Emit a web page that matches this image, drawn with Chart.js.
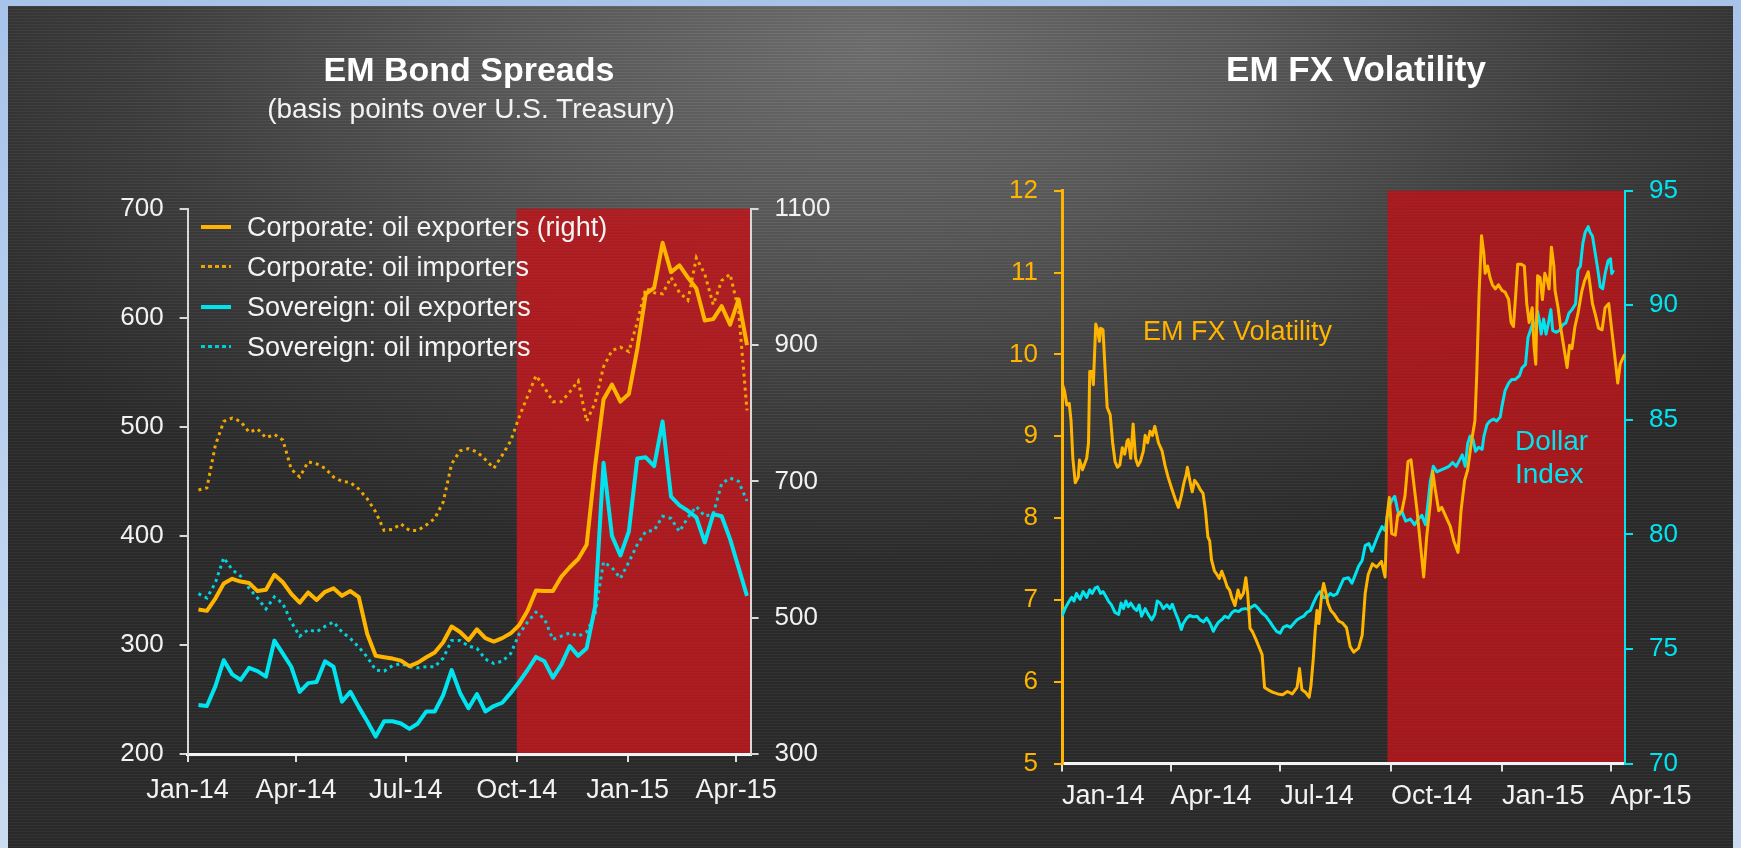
<!DOCTYPE html>
<html>
<head>
<meta charset="utf-8">
<script src="https://cdn.jsdelivr.net/npm/chart.js@4.4.1/dist/chart.umd.min.js"></script>
<style>
  html, body { margin: 0; padding: 0; }
  body {
    width: 1741px; height: 848px; position: relative; overflow: hidden;
    background: linear-gradient(180deg, #a8c3ea, #cadcf1);
    font-family: "Liberation Sans", Arial, sans-serif;
  }
  #panel {
    position: absolute; left: 8px; top: 6px; width: 1725px; height: 842px;
    background:
      repeating-linear-gradient(180deg, rgba(255,255,255,0.035) 0px, rgba(255,255,255,0.035) 1px, rgba(0,0,0,0.06) 1px, rgba(0,0,0,0.06) 3px),
      radial-gradient(ellipse 62% 62% at 50% 5%, #717171 0%, #5b5b5b 35%, #3e3e3e 70%, #2c2c2c 100%);
  }
  canvas { position: absolute; top: 0; }
  #bond { left: 0; }
  #fx { left: 870px; }
  .lbl { position: absolute; white-space: nowrap; transform: translate(-50%, -50%); }
  .title { color: #fff; font-weight: bold; font-size: 34px; }
  .sub { color: #f2f2f2; font-size: 28px; }
  .leg { position: absolute; left: 201px; height: 40px; line-height: 40px; color: #f4f4f4; font-size: 27px; white-space: nowrap; }
  .leg i { position: absolute; left: 0; top: 18px; width: 30px; height: 4px; }
  .leg span { position: absolute; left: 46px; top: 0; }
  .note { position: absolute; white-space: nowrap; }
</style>
</head>
<body>
<div id="panel"></div>
<canvas id="bond" width="870" height="848"></canvas>
<canvas id="fx" width="871" height="848"></canvas>

<div class="lbl title" style="left:469px; top:69px;">EM Bond Spreads</div>
<div class="lbl sub" style="left:471px; top:109px;">(basis points over U.S. Treasury)</div>
<div class="lbl title" style="left:1356px; top:69px; font-size:35px;">EM FX Volatility</div>

<div class="leg" style="top:207px;"><i style="background:#FFB400;"></i><span>Corporate: oil exporters (right)</span></div>
<div class="leg" style="top:247px;"><i style="height:3px; background:repeating-linear-gradient(90deg,#E8A400 0 4px,transparent 4px 7px);"></i><span>Corporate: oil importers</span></div>
<div class="leg" style="top:287px;"><i style="background:#00E4F0;"></i><span>Sovereign: oil exporters</span></div>
<div class="leg" style="top:327px;"><i style="height:3px; background:repeating-linear-gradient(90deg,#00CCD8 0 4px,transparent 4px 7px);"></i><span>Sovereign: oil importers</span></div>

<div class="note" style="left:1143px; top:316px; font-size:27px; color:#FFB400;">EM FX Volatility</div>
<div class="note" style="left:1515px; top:424px; font-size:28px; line-height:33px; color:#00E4F0;">Dollar<br>Index</div>

<script>
// ---- shared axis ticks (days since 1 Jan 2014) ----
const tickDays = [0, 90, 181, 273, 365, 455];
const tickLabels = ['Jan-14', 'Apr-14', 'Jul-14', 'Oct-14', 'Jan-15', 'Apr-15'];

// ---- EM Bond Spreads, weekly from 10 Jan 2014 ----
const corpExporters = [512, 510, 528, 550, 557, 553, 551, 539, 541, 563, 552, 535, 522, 537, 526, 538, 543, 532, 539, 530,
  476, 444, 442, 440, 437, 429, 434, 442, 449, 464, 487, 479, 467, 483, 470, 465, 470, 477, 489, 510,
  540, 539, 539, 560, 574, 586, 607, 722, 820, 842, 817, 828, 894, 975, 984, 1050, 1007, 1017, 999, 983,
  936, 938, 957, 930, 967, 900];
const corpImporters = [442, 444, 483, 505, 508, 505, 495, 498, 490, 493, 488, 461, 454, 468, 466, 462, 454, 450, 449, 443,
  434, 422, 405, 406, 411, 405, 405, 410, 416, 431, 466, 478, 480, 477, 470, 462, 474, 487, 509, 528,
  547, 536, 523, 523, 532, 542, 505, 522, 555, 570, 573, 569, 596, 627, 623, 622, 637, 623, 616, 655,
  640, 612, 634, 640, 607, 515];
const sovExporters = [245, 244, 262, 286, 273, 268, 279, 276, 271, 304, 292, 280, 257, 265, 266, 285, 280, 248, 257, 243,
  230, 216, 230, 230, 228, 223, 228, 239, 239, 254, 277, 256, 242, 255, 239, 244, 247, 256, 266, 277,
  289, 285, 270, 282, 299, 290, 297, 335, 467, 400, 382, 404, 471, 472, 464, 505, 436, 428, 423, 417,
  394, 420, 418, 397, 371, 345];
const sovImporters = [347, 343, 357, 380, 369, 363, 352, 343, 333, 344, 338, 321, 308, 314, 312, 317, 321, 312, 306, 298,
  289, 277, 276, 281, 283, 280, 279, 280, 280, 288, 304, 304, 299, 297, 287, 283, 285, 292, 310, 321,
  330, 324, 305, 308, 311, 308, 312, 328, 376, 371, 361, 376, 392, 404, 405, 418, 416, 404, 417, 427,
  418, 420, 448, 453, 450, 432];
const bondDays = corpExporters.map((_, i) => 9 + 7 * i);

// ---- EM FX Volatility (left) and Dollar Index (right) ----
const fxDays = [0, 2, 4, 6, 7.5, 9, 11, 13.5, 14.5, 17, 20.5, 22, 23, 25, 26, 28, 29.5, 31, 32, 34,
  36, 37.5, 40, 42, 44, 46, 48, 50, 52, 54, 55, 57, 59, 61, 63, 65, 67.5, 69, 71, 73,
  75, 77, 80, 83, 85.5, 88, 91, 94, 96.5, 99, 101, 103, 104, 106, 108, 110, 112.5, 115, 117, 119,
  121, 122.5, 124, 126.5, 128.5, 130.5, 132.5, 135, 137, 139, 141, 143.5, 146, 148, 150.5, 152.5, 154, 156, 158, 161,
  163.5, 166, 168, 171, 175, 179, 183, 187, 191, 195, 197, 199, 202, 205, 206.5, 208.5, 210, 211.5, 213, 215.5,
  217, 219, 220.5, 223, 226, 229.5, 232.5, 236, 239, 242, 246, 249, 251.5, 254, 257.5, 261, 265, 268, 269.5, 271.5,
  273.5, 276.5, 278.5, 282, 284.5, 287, 289.5, 291.5, 294.5, 297, 300, 302.5, 305.5, 307.5, 309.5, 312.5, 315, 319, 322, 325,
  328.5, 331, 334, 336.5, 339.5, 342.5, 344, 346, 348, 350, 351, 353, 355, 357, 359.5, 362, 365, 367.5, 370.5, 372.5,
  374.5, 376.5, 378, 381, 383.5, 385.5, 387.5, 390, 391.5, 393, 394.5, 396.5, 398.5, 400.5, 402.5, 404, 406, 408, 409, 411.5,
  413.5, 416, 419, 421, 423, 425.5, 428, 431, 433.5, 436.5, 438, 440, 442.5, 445, 448, 450.5, 453.5, 456, 458.5, 461,
  463, 466, 467];
const fxVol = [9.65, 9.56, 9.38, 9.40, 9.19, 8.73, 8.43, 8.50, 8.71, 8.59, 8.73, 8.92, 9.79, 9.79, 9.63, 10.37, 10.30, 10.16, 10.32, 10.30,
  9.75, 9.35, 9.26, 8.92, 8.69, 8.62, 8.65, 8.86, 8.78, 8.94, 8.96, 8.73, 9.15, 8.73, 8.64, 8.69, 8.82, 9.01, 8.92, 9.06,
  9.01, 9.12, 8.92, 8.82, 8.64, 8.50, 8.36, 8.23, 8.13, 8.27, 8.42, 8.53, 8.62, 8.46, 8.32, 8.46, 8.41, 8.34, 8.30, 8.09,
  7.77, 7.72, 7.49, 7.35, 7.31, 7.26, 7.35, 7.25, 7.16, 7.12, 7.02, 6.93, 7.12, 7.02, 7.08, 7.27, 7.08, 6.65, 6.61, 6.51,
  6.42, 6.33, 5.93, 5.90, 5.87, 5.85, 5.84, 5.88, 5.85, 5.93, 6.16, 5.90, 5.87, 5.81, 5.95, 6.29, 6.62, 6.87, 6.71, 7.08,
  7.20, 7.08, 6.96, 6.87, 6.82, 6.74, 6.72, 6.66, 6.43, 6.36, 6.41, 6.57, 7.08, 7.31, 7.44, 7.40, 7.47, 7.28, 8.00, 8.25,
  7.81, 7.79, 8.04, 8.09, 8.27, 8.69, 8.71, 8.46, 8.09, 7.72, 7.28, 7.77, 8.18, 8.57, 8.36, 8.09, 8.13, 8.00, 7.90, 7.72,
  7.58, 8.09, 8.46, 8.59, 8.92, 9.19, 9.74, 10.76, 11.45, 11.22, 10.99, 11.08, 10.94, 10.85, 10.80, 10.85, 10.78, 10.76, 10.67, 10.39,
  10.34, 10.76, 11.10, 11.10, 11.08, 10.62, 10.39, 10.57, 10.11, 9.88, 10.96, 10.94, 10.67, 10.99, 10.90, 10.80, 11.31, 11.08, 10.78, 10.57,
  10.34, 10.11, 9.84, 10.11, 10.07, 10.34, 10.50, 10.76, 10.90, 11.01, 10.85, 10.62, 10.48, 10.32, 10.30, 10.57, 10.62, 10.30, 9.98, 9.65,
  9.88, 9.98, 10.0];
const dxyDays = [0, 2.5, 5, 8, 10, 12, 15, 17.5, 20.5, 23, 25, 27.5, 29.5, 32, 34, 36, 38.5, 41, 44, 47,
  49, 51, 53, 55, 57, 60, 62, 64, 66, 69, 71.5, 74.5, 77, 79, 81.5, 84, 87, 89.5, 91.5, 94,
  96.5, 99, 100.5, 103.5, 106, 109, 112, 114.5, 117.5, 120, 123, 125.5, 128, 130, 132.5, 135, 138, 141, 143.5, 146.5,
  149, 152, 154.5, 157.5, 160, 163, 165.5, 169, 172.5, 175.5, 178, 181, 183.5, 186.5, 189.5, 192, 195, 197.5, 200.5, 203,
  206, 208.5, 211.5, 214, 217, 219.5, 222.5, 225, 228, 230.5, 233.5, 237.5, 240.5, 243, 246, 249, 251.5, 254.5, 257, 260,
  262.5, 265.5, 268, 271, 273.5, 276, 278, 279.5, 282, 285, 289, 292.5, 295.5, 298.5, 301.5, 303.5, 305.5, 308, 311, 314.5,
  318, 321, 324, 327, 329.5, 332, 334.5, 336.5, 338.5, 341, 343, 345.5, 348.5, 350, 352.5, 355, 358, 360.5, 363.5, 365,
  367.5, 370.5, 373, 376, 379.5, 381.5, 384.5, 386.5, 388.5, 390.5, 392.5, 394.5, 396, 397.5, 399.5, 401.5, 403.5, 405.5, 407, 410,
  412.5, 415.5, 418, 420.5, 423, 426, 428, 430, 432, 434, 436.5, 438, 440, 442.5, 444.5, 446.5, 448.5, 450.5, 453, 455,
  456, 457.5];
const dxyIndex = [76.43, 76.76, 77.0, 77.25, 77.09, 77.42, 77.17, 77.5, 77.25, 77.58, 77.42, 77.66, 77.71, 77.42, 77.5, 77.33, 77.09, 76.92, 76.59, 76.51,
  77.0, 76.76, 77.09, 76.84, 77.0, 76.76, 76.68, 76.92, 76.43, 76.76, 76.51, 76.27, 76.51, 77.09, 77.0, 76.76, 76.92, 76.76, 76.95, 76.59,
  76.27, 75.85, 76.10, 76.35, 76.46, 76.40, 76.43, 76.27, 76.18, 76.35, 76.10, 75.77, 76.02, 76.18, 76.27, 76.43, 76.35, 76.59, 76.68, 76.63,
  76.73, 76.76, 76.73, 76.84, 76.92, 76.76, 76.59, 76.43, 76.18, 75.94, 75.77, 75.69, 75.94, 76.02, 75.94, 76.10, 76.27, 76.35, 76.43, 76.59,
  76.68, 77.00, 77.33, 77.50, 77.25, 77.25, 77.42, 77.33, 77.40, 77.70, 78.05, 78.11, 77.87, 78.20, 78.61, 78.86, 79.51, 79.60, 79.27, 79.68,
  80.01, 80.34, 80.17, 81.16, 81.49, 81.66, 81.16, 80.83, 81.00, 80.58, 80.67, 80.42, 80.67, 80.83, 80.42, 81.33, 82.31, 82.97, 82.73, 82.81,
  82.89, 82.97, 83.14, 82.97, 83.22, 83.47, 82.97, 83.96, 84.29, 84.13, 83.63, 83.80, 83.71, 84.29, 84.79, 84.95, 85.03, 84.95, 85.12, 85.61,
  86.27, 86.60, 86.76, 86.76, 86.93, 87.26, 87.42, 88.58, 88.90, 89.23, 89.07, 89.73, 89.32, 88.74, 89.40, 88.74, 89.23, 89.81, 88.90, 88.82,
  88.90, 89.15, 89.23, 89.65, 89.81, 90.06, 91.54, 91.71, 92.69, 93.19, 93.43, 93.19, 93.02, 92.20, 91.54, 90.80, 90.72, 91.38, 91.95, 92.03,
  91.38, 91.54];

const ORANGE = '#FFB400';
const CYAN = '#00E4F0';
const FONT = '"Liberation Sans", Arial, sans-serif';

function pts(xs, ys) { return ys.map((y, i) => ({ x: xs[i], y: y })); }

// red shaded period, drawn before the axes
function makeBand(from, color) {
  return {
    id: 'band',
    beforeDraw(chart) {
      const { ctx, chartArea: a } = chart;
      const x0 = chart.scales.x.getPixelForValue(from);
      ctx.save();
      ctx.fillStyle = color;
      ctx.fillRect(x0, a.top, a.right - x0, a.bottom - a.top);
      ctx.fillStyle = 'rgba(0,0,0,0.07)';
      for (let y = a.top; y < a.bottom; y += 3) ctx.fillRect(x0, y, a.right - x0, 1);
      ctx.restore();
    }
  };
}

function xAxis(align, pad) {
  return {
    type: 'linear', min: 0, max: 467,
    afterBuildTicks: (s) => { s.ticks = tickDays.map(v => ({ value: v })); },
    afterFit: (s) => { s.height = 60; },
    ticks: {
      callback: (v, i) => tickLabels[i], autoSkip: false, maxRotation: 0, align: align,
      color: '#F2F2F2', padding: pad, font: { family: FONT, size: 27 }
    },
    grid: { drawOnChartArea: false, tickLength: 8, color: '#E0E0E0', lineWidth: 2 },
    border: { color: '#F4F4F4', width: 3 }
  };
}

function yAxis(pos, min, max, step, color, lineColor, lineWidth) {
  return {
    type: 'linear', position: pos, min: min, max: max,
    afterFit: (s) => { s.width = 110; },
    ticks: { stepSize: step, color: color, padding: 16, font: { family: FONT, size: 26 },
      callback: (v) => String(v) },
    grid: { drawOnChartArea: false, tickLength: 8, color: lineColor, lineWidth: 2 },
    border: { color: lineColor, width: lineWidth }
  };
}

const common = {
  responsive: false,
  animation: false,
  devicePixelRatio: 1,
  events: [],
  elements: { point: { radius: 0 }, line: { tension: 0 } }
};

new Chart(document.getElementById('bond'), {
  type: 'line',
  data: {
    datasets: [
      { label: 'Corporate: oil exporters (right)', data: pts(bondDays, corpExporters), yAxisID: 'yR',
        borderColor: ORANGE, borderWidth: 4, borderJoinStyle: 'round' },
      { label: 'Sovereign: oil exporters', data: pts(bondDays, sovExporters), yAxisID: 'y',
        borderColor: CYAN, borderWidth: 4, borderJoinStyle: 'round' },
      { label: 'Corporate: oil importers', data: pts(bondDays, corpImporters), yAxisID: 'y',
        borderColor: '#F0A800', borderWidth: 3, borderDash: [3, 4] },
      { label: 'Sovereign: oil importers', data: pts(bondDays, sovImporters), yAxisID: 'y',
        borderColor: '#00D2DE', borderWidth: 3, borderDash: [3, 4] }
    ]
  },
  options: Object.assign({}, common, {
    layout: { padding: { left: 77.6, right: 9.4, top: 208.7, bottom: 34 } },
    plugins: { legend: { display: false }, tooltip: { enabled: false } },
    scales: {
      x: xAxis('center', 12),
      y: yAxis('left', 200, 700, 100, '#F2F2F2', '#D8D8D8', 2),
      yR: yAxis('right', 300, 1100, 200, '#F2F2F2', '#D8D8D8', 2)
    }
  }),
  plugins: [makeBand(273, 'rgba(184, 28, 32, 0.93)')]
});

new Chart(document.getElementById('fx'), {
  type: 'line',
  data: {
    datasets: [
      { label: 'EM FX Volatility', data: pts(fxDays, fxVol), yAxisID: 'y',
        borderColor: ORANGE, borderWidth: 3, borderJoinStyle: 'round' },
      { label: 'Dollar Index', data: pts(dxyDays, dxyIndex), yAxisID: 'yR',
        borderColor: CYAN, borderWidth: 3, borderJoinStyle: 'round' }
    ]
  },
  options: Object.assign({}, common, {
    layout: { padding: { left: 82, right: 6, top: 190.7, bottom: 24.5 } },
    plugins: { legend: { display: false }, tooltip: { enabled: false } },
    scales: {
      x: xAxis('start', 9),
      y: yAxis('left', 5, 12, 1, ORANGE, ORANGE, 3),
      yR: yAxis('right', 70, 95, 5, CYAN, CYAN, 2)
    }
  }),
  plugins: [makeBand(270, 'rgba(178, 26, 30, 0.93)')]
});
</script>
</body>
</html>
